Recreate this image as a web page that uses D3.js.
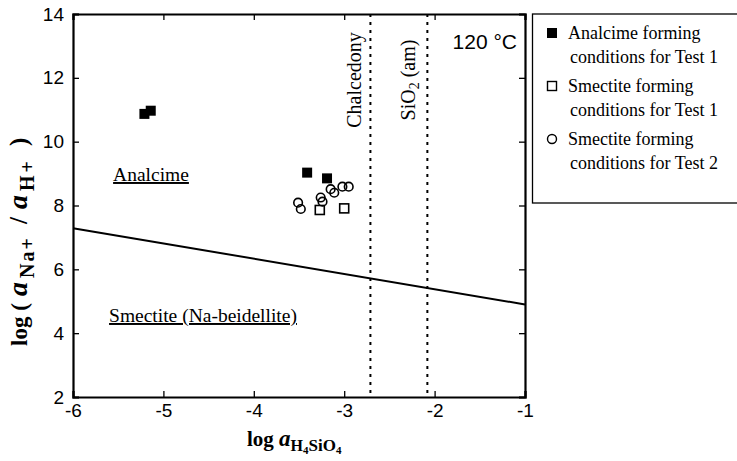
<!DOCTYPE html>
<html><head><meta charset="utf-8">
<script src="https://cdn.jsdelivr.net/npm/d3@7"></script>
<style>body{margin:0;background:#fff}</style>
</head><body>
<svg id="c" width="737" height="461"></svg>
<script>
// ---- data ----
const xTicks = [-6, -5, -4, -3, -2, -1];
const yTicks = [2, 4, 6, 8, 10, 12, 14];
const analcimeTest1 = [[-5.21, 10.87], [-5.14, 10.97], [-3.41, 9.03], [-3.19, 8.85]];
const smectiteTest1 = [[-3.27, 7.86], [-3.00, 7.91]];
const smectiteTest2 = [[-3.51, 8.09], [-3.48, 7.89], [-3.26, 8.25], [-3.24, 8.12], [-3.15, 8.51], [-3.11, 8.40], [-3.02, 8.59], [-2.95, 8.59]];
const boundaryLine = [[-6, 7.29], [-1, 4.90]];
const silicaLines = [{name: "Chalcedony", x: -2.71}, {name: "SiO2 (am)", x: -2.08}];
const legendItems = [
  {shape: "filled", l1: "Analcime forming", l2: "conditions for Test 1"},
  {shape: "square", l1: "Smectite forming", l2: "conditions for Test 1"},
  {shape: "circle", l1: "Smectite forming", l2: "conditions for Test 2"}
];

const SERIF = '"Liberation Serif","Times New Roman",Tinos,serif';
const SANS = '"Liberation Sans",Arial,Arimo,sans-serif';
const svg = d3.select("#c");
const L = 73, R = 525, T = 14, B = 397;
const x = d3.scaleLinear().domain([-6, -1]).range([L, R]);
const y = d3.scaleLinear().domain([2, 14]).range([B, T]);

function txt(sel, fam, size) {
  return sel.append("text").style("font-family", fam).style("font-size", size + "px").attr("fill", "#000");
}

// boundary line
svg.append("path").datum(boundaryLine)
  .attr("d", d3.line().x(d => x(d[0])).y(d => y(d[1])))
  .attr("stroke", "#000").attr("stroke-width", 2).attr("fill", "none");

// dotted silica lines
svg.selectAll(".sil").data(silicaLines).enter().append("line")
  .attr("x1", d => x(d.x)).attr("x2", d => x(d.x))
  .attr("y1", y(14)).attr("y2", y(2))
  .attr("stroke", "#000").attr("stroke-width", 2).attr("stroke-dasharray", "3,5");

// axes (ticks inward on all four sides)
const fmt = d => String(d);
const ax = svg.append("g").attr("transform", `translate(0,${B})`)
  .call(d3.axisBottom(x).tickValues(xTicks).tickSize(-6).tickPadding(8).tickFormat(fmt));
const axT = svg.append("g").attr("transform", `translate(0,${T})`)
  .call(d3.axisTop(x).tickValues(xTicks).tickSize(-6).tickFormat(""));
const ay = svg.append("g").attr("transform", `translate(${L},0)`)
  .call(d3.axisLeft(y).tickValues(yTicks).tickSize(-6).tickPadding(9).tickFormat(fmt));
const ayR = svg.append("g").attr("transform", `translate(${R},0)`)
  .call(d3.axisRight(y).tickValues(yTicks).tickSize(-6).tickFormat(""));
[ax, axT, ay, ayR].forEach(g => {
  g.select(".domain").attr("stroke-width", 2.2).attr("stroke", "#000");
  g.selectAll(".tick line").attr("stroke-width", 1.3).attr("stroke", "#000");
  g.selectAll("text").style("font-family", SANS).style("font-size", "19px").attr("fill", "#000");
});
ax.selectAll("text").attr("dy", "0.65em");

// markers
svg.selectAll(".fs").data(analcimeTest1).enter().append("rect")
  .attr("x", d => x(d[0]) - 5).attr("y", d => y(d[1]) - 5)
  .attr("width", 10).attr("height", 10).attr("fill", "#000");
svg.selectAll(".os").data(smectiteTest1).enter().append("rect")
  .attr("x", d => x(d[0]) - 4.5).attr("y", d => y(d[1]) - 4.5)
  .attr("width", 9).attr("height", 9).attr("fill", "#fff").attr("stroke", "#000").attr("stroke-width", 1.6);
svg.selectAll(".oc").data(smectiteTest2).enter().append("circle")
  .attr("cx", d => x(d[0])).attr("cy", d => y(d[1])).attr("r", 4.3)
  .attr("fill", "none").attr("stroke", "#000").attr("stroke-width", 1.6);

// region labels (underlined)
txt(svg, SERIF, 19.5).attr("x", 151).attr("y", 181).attr("text-anchor", "middle")
  .attr("text-decoration", "underline").text("Analcime");
txt(svg, SERIF, 19.5).attr("x", 203).attr("y", 322).attr("text-anchor", "middle")
  .attr("text-decoration", "underline").text("Smectite (Na-beidellite)");

// rotated labels for silica lines
txt(svg, SERIF, 20).attr("transform", `translate(${x(-2.71) - 9},80) rotate(-90)`)
  .attr("text-anchor", "middle").text("Chalcedony");
const sio = txt(svg, SERIF, 20).attr("transform", `translate(${x(-2.08) - 12},80) rotate(-90)`)
  .attr("text-anchor", "middle");
sio.append("tspan").text("SiO");
sio.append("tspan").style("font-size", "14px").attr("dy", 4).text("2");
sio.append("tspan").attr("dy", -4).text(" (am)");

// temperature
txt(svg, SANS, 21).attr("x", 517).attr("y", 49).attr("text-anchor", "end").text("120 °C");

// axis titles
const xl = txt(svg, SERIF, 21).attr("x", 247).attr("y", 446).style("font-weight", "bold");
xl.append("tspan").text("log ");
xl.append("tspan").style("font-style", "italic").style("font-size", "23px").text("a");
xl.append("tspan").style("font-size", "16px").attr("dy", 5).text("H");
xl.append("tspan").style("font-size", "11px").attr("dy", 3).text("4");
xl.append("tspan").style("font-size", "17px").attr("dy", -3).text("SiO");
xl.append("tspan").style("font-size", "11px").attr("dy", 3).text("4");

const yl = txt(svg, SERIF, 23).attr("transform", "translate(27,346) rotate(-90)").style("font-weight", "bold");
yl.append("tspan").attr("x", 0).text("log (");
yl.append("tspan").attr("x", 50).style("font-style", "italic").style("font-size", "28px").text("a");
yl.append("tspan").attr("x", 68).attr("dy", 7).style("font-size", "20px").attr("letter-spacing", 2).text("Na+");
yl.append("tspan").attr("x", 122).attr("dy", -7).style("font-size", "25px").text("/");
yl.append("tspan").attr("x", 137).style("font-style", "italic").style("font-size", "28px").text("a");
yl.append("tspan").attr("x", 155).attr("dy", 7).style("font-size", "20px").attr("letter-spacing", 3).text("H+");
yl.append("tspan").attr("x", 200).attr("dy", -7).style("font-size", "25px").text(")");

// legend
svg.append("rect").attr("x", 532.5).attr("y", 14).attr("width", 210).attr("height", 189)
  .attr("fill", "#fff").attr("stroke", "#000").attr("stroke-width", 1.3);
const lg = svg.selectAll(".lg").data(legendItems).enter().append("g")
  .attr("transform", (d, i) => `translate(0,${i * 53})`);
lg.each(function(d) {
  const g = d3.select(this);
  if (d.shape === "filled") g.append("rect").attr("x", 547).attr("y", 28).attr("width", 10).attr("height", 10).attr("fill", "#000");
  else if (d.shape === "square") g.append("rect").attr("x", 547.5).attr("y", 28.5).attr("width", 9).attr("height", 9).attr("fill", "#fff").attr("stroke", "#000").attr("stroke-width", 1.4);
  else g.append("circle").attr("cx", 552).attr("cy", 33).attr("r", 4.5).attr("fill", "none").attr("stroke", "#000").attr("stroke-width", 1.4);
  txt(g, SERIF, 18).attr("x", 568).attr("y", 39).text(d.l1);
  txt(g, SERIF, 18).attr("x", 570).attr("y", 63).text(d.l2);
});
</script>
</body></html>
